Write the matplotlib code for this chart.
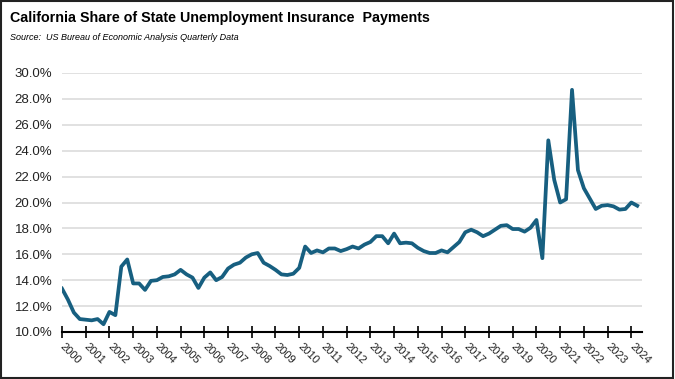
import matplotlib
matplotlib.use("Agg")
from matplotlib import pyplot as plt
from matplotlib.patches import Rectangle

# quarterly share, 2000Q1 .. 2024Q2 (percent)
share = [13.35, 12.5, 11.5, 11.0, 10.95, 10.9, 11.0, 10.6,
         11.55, 11.3, 15.05, 15.6, 13.75, 13.75, 13.25, 13.95,
         14.0, 14.25, 14.3, 14.45, 14.8, 14.45, 14.2, 13.4,
         14.2, 14.6, 14.0, 14.25, 14.9, 15.2, 15.35, 15.75,
         16.0, 16.1, 15.35, 15.1, 14.8, 14.45, 14.4, 14.5,
         14.95, 16.6, 16.1, 16.3, 16.15, 16.45, 16.45, 16.25,
         16.4, 16.6, 16.45, 16.75, 16.95, 17.4, 17.4, 16.85,
         17.6, 16.85, 16.9, 16.85, 16.5, 16.25, 16.1, 16.1,
         16.3, 16.15, 16.55, 16.95, 17.7, 17.9, 17.7, 17.4,
         17.6, 17.9, 18.2, 18.25, 17.95, 17.95, 17.75, 18.05,
         18.65, 15.7, 24.8, 21.75, 20.0, 20.25, 28.7, 22.5,
         21.1, 20.3, 19.5, 19.75, 19.8, 19.7, 19.45, 19.5,
         20.0, 19.75]
years = [str(y) for y in range(2000, 2025)]
yticks = [10, 12, 14, 16, 18, 20, 22, 24, 26, 28, 30]

color = "#175f80"
font = "Liberation Sans"

fig = plt.figure(figsize=(6.75, 3.79), dpi=100)
ax = fig.add_axes([62 / 675, 1 - 332 / 379, 580 / 675, 259 / 379])

ax.plot(range(len(share)), share, color=color, lw=2.7, solid_joinstyle="round")
ax.set_xlim(0, 97.8)
ax.set_ylim(10, 30)

ax.set_yticks(yticks)
ax.set_yticklabels([f"{v:.1f}%" for v in yticks], family=font, fontsize=9.5, color="#222222")
ax.tick_params(axis="y", length=0, pad=7)
ax.grid(axis="y", color="#d9d9d9", lw=1.1)
ax.set_axisbelow(True)

ax.set_xticks(range(0, 4 * len(years), 4))
ax.set_xticklabels(years, rotation=-45, ha="left", va="center", rotation_mode="anchor",
                   family=font, fontsize=8, color="#222222")
ax.tick_params(axis="x", direction="inout", length=8, width=1.2, pad=5)

for s in ["top", "right", "left"]:
    ax.spines[s].set_visible(False)
ax.spines["bottom"].set_linewidth(1.5)

fig.text(10 / 675, 1 - 18 / 379, "California Share of State Unemployment Insurance  Payments",
         family=font, weight="bold", fontsize=10.3, va="center")
fig.text(10 / 675, 1 - 37 / 379, "Source:  US Bureau of Economic Analysis Quarterly Data",
         family=font, style="italic", fontsize=6.5, va="center")

fig.patches.append(Rectangle((0.002, 0.003), 0.995, 0.994, transform=fig.transFigure,
                             fill=False, edgecolor="#222222", lw=1.5))

fig.savefig("out.png", dpi=100)
